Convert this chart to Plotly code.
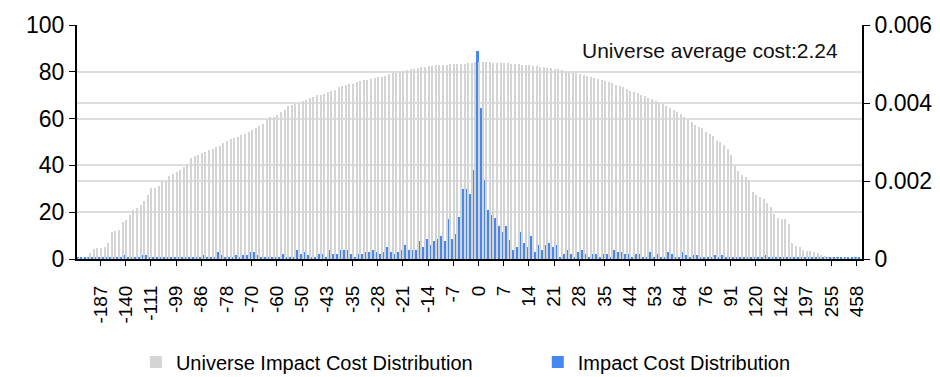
import plotly.graph_objects as go

# Cost buckets (bps) along the category axis
categories = [
    "-320", "-290", "-260", "-235", "-215", "-198", "-187", "-180", "-172", "-165",
    "-158", "-151", "-145", "-140", "-136", "-131", "-127", "-123", "-119", "-115",
    "-111", "-109", "-107", "-105", "-103", "-101", "-100", "-99", "-97", "-95",
    "-93", "-91", "-89", "-88", "-86", "-85", "-84", "-83", "-81", "-80",
    "-79", "-78", "-77", "-76", "-75", "-73", "-72", "-71", "-70", "-68",
    "-67", "-65", "-64", "-63", "-61", "-60", "-59", "-57", "-56", "-54",
    "-53", "-51", "-50", "-49", "-48", "-47", "-46", "-45", "-44", "-43",
    "-42", "-41", "-40", "-38", "-37", "-36", "-35", "-34", "-33", "-32",
    "-31", "-30", "-29", "-28", "-27", "-26", "-25", "-24", "-23", "-22",
    "-21", "-20", "-19", "-18", "-17", "-16", "-15", "-14", "-13", "-12",
    "-11", "-10", "-9", "-8", "-7", "-6", "-5", "-4", "-3", "-2",
    "-1", "0", "1", "2", "3", "4", "5", "6", "7", "8",
    "9", "10", "11", "12", "13", "14", "15", "16", "17", "18",
    "19", "20", "21", "22", "23", "24", "25", "26", "27", "28",
    "29", "30", "31", "32", "33", "34", "35", "36", "37", "38",
    "40", "41", "43", "44", "45", "46", "48", "49", "50", "52",
    "53", "54", "56", "57", "59", "60", "62", "64", "66", "67",
    "69", "71", "72", "74", "76", "78", "80", "82", "85", "87",
    "89", "91", "95", "99", "103", "107", "111", "116", "120", "123",
    "126", "130", "133", "136", "139", "142", "150", "158", "165", "174",
    "182", "190", "197", "205", "214", "223", "232", "240", "248", "255",
    "270", "290", "310", "340", "380", "420", "458", "620",
]

# Labelled ticks
tick_labels = [
    "-187", "-140", "-111", "-99", "-86", "-78", "-70", "-60", "-50", "-43",
    "-35", "-28", "-21", "-14", "-7", "0", "7", "14", "21", "28",
    "35", "44", "53", "64", "76", "91", "120", "142", "197", "255", "458",
]

# Universe impact cost distribution (density, right axis)
universe = [
    0.000018, 0.000018, 0.000024, 0.000156, 0.000258, 0.000282, 0.000282, 0.000306, 0.000408, 0.000696,
    0.000708, 0.000750, 0.000942, 0.001008, 0.001140, 0.001248, 0.001308, 0.001380, 0.001482, 0.001650,
    0.001812, 0.001830, 0.001866, 0.001974, 0.001992, 0.002124, 0.002190, 0.002226, 0.002280, 0.002352,
    0.002436, 0.002586, 0.002634, 0.002676, 0.002724, 0.002754, 0.002790, 0.002826, 0.002868, 0.002910,
    0.002976, 0.003024, 0.003066, 0.003096, 0.003132, 0.003174, 0.003210, 0.003252, 0.003306, 0.003348,
    0.003420, 0.003468, 0.003594, 0.003636, 0.003648, 0.003702, 0.003762, 0.003816, 0.003918, 0.003960,
    0.003978, 0.004008, 0.004050, 0.004074, 0.004116, 0.004158, 0.004194, 0.004218, 0.004242, 0.004278,
    0.004314, 0.004344, 0.004398, 0.004434, 0.004458, 0.004476, 0.004500, 0.004536, 0.004554, 0.004578,
    0.004602, 0.004620, 0.004638, 0.004656, 0.004674, 0.004704, 0.004740, 0.004758, 0.004776, 0.004794,
    0.004818, 0.004842, 0.004860, 0.004878, 0.004896, 0.004914, 0.004926, 0.004944, 0.004956, 0.004962,
    0.004962, 0.004962, 0.004980, 0.004992, 0.004998, 0.005004, 0.005004, 0.005004, 0.005016, 0.005016,
    0.005040, 0.005046, 0.005046, 0.005040, 0.005040, 0.005034, 0.005034, 0.005028, 0.005022, 0.005016,
    0.005010, 0.005004, 0.004992, 0.004980, 0.004974, 0.004962, 0.004956, 0.004944, 0.004932, 0.004920,
    0.004908, 0.004890, 0.004878, 0.004860, 0.004836, 0.004812, 0.004794, 0.004776, 0.004758, 0.004734,
    0.004710, 0.004686, 0.004668, 0.004644, 0.004614, 0.004590, 0.004560, 0.004536, 0.004506, 0.004470,
    0.004434, 0.004398, 0.004356, 0.004320, 0.004290, 0.004254, 0.004218, 0.004176, 0.004128, 0.004092,
    0.004044, 0.004008, 0.003966, 0.003918, 0.003876, 0.003810, 0.003768, 0.003708, 0.003648, 0.003576,
    0.003510, 0.003432, 0.003390, 0.003348, 0.003258, 0.003210, 0.003144, 0.003036, 0.003006, 0.002934,
    0.002808, 0.002664, 0.002418, 0.002244, 0.002166, 0.002106, 0.002028, 0.001710, 0.001632, 0.001584,
    0.001542, 0.001440, 0.001332, 0.001158, 0.001050, 0.001026, 0.001026, 0.000900, 0.000408, 0.000336,
    0.000318, 0.000240, 0.000216, 0.000216, 0.000174, 0.000156, 0.000114, 0.000066, 0.000054, 0.000042,
    0.000024, 0.000024, 0.000024, 0.000024, 0.000024, 0.000024, 0.000024, 0.000024,
]

# Impact cost distribution (left axis)
impact = [
    0.9, 0.9, 0.9, 0.9, 0.9, 0.9, 0.9, 0.9, 0.9, 0.9,
    0.9, 0.9, 0.9, 1.9, 0.9, 0.9, 0.9, 0.9, 1.9, 1.9,
    0.9, 0.9, 0.9, 0.9, 0.9, 0.9, 0.9, 0.9, 0.9, 0.9,
    0.9, 0.9, 0.9, 0.9, 0.9, 1.9, 0.9, 0.9, 0.9, 3.0,
    1.9, 0.9, 0.9, 0.9, 1.9, 0.9, 1.9, 1.9, 3.0, 3.0,
    1.9, 0.9, 0.9, 0.9, 0.9, 0.9, 0.9, 2.0, 0.9, 0.9,
    0.9, 3.9, 2.0, 3.0, 1.9, 0.9, 0.9, 2.0, 2.0, 0.9,
    3.9, 2.0, 2.0, 3.9, 3.9, 3.9, 2.0, 0.9, 2.0, 2.0,
    3.0, 3.0, 3.9, 3.0, 2.0, 3.0, 5.0, 3.0, 2.0, 3.0,
    3.9, 6.0, 3.9, 3.9, 3.9, 7.9, 5.0, 8.7, 6.0, 7.9,
    8.7, 9.8, 7.9, 17.1, 8.7, 10.8, 17.8, 30.0, 30.0, 27.8,
    38.0, 88.9, 64.6, 33.9, 21.1, 19.0, 17.5, 14.0, 11.6, 14.0,
    8.3, 3.7, 5.0, 11.7, 6.8, 5.0, 9.8, 3.0, 5.9, 3.7,
    5.9, 6.8, 5.0, 5.9, 1.0, 2.0, 3.7, 2.0, 1.0, 3.0,
    3.7, 2.0, 1.0, 2.0, 2.0, 1.0, 2.0, 2.0, 1.0, 3.7,
    3.0, 3.0, 2.0, 2.0, 1.0, 2.0, 2.0, 1.0, 1.0, 3.0,
    1.0, 2.0, 1.0, 1.0, 3.0, 2.0, 1.0, 0.9, 3.0, 1.5,
    0.9, 1.5, 1.5, 0.9, 0.9, 0.9, 0.9, 1.5, 0.9, 1.5,
    0.9, 0.9, 0.9, 0.9, 0.9, 0.9, 0.9, 0.9, 0.9, 0.9,
    0.9, 1.5, 0.9, 0.9, 0.9, 0.9, 0.9, 0.9, 0.9, 0.9,
    0.9, 0.9, 0.9, 0.9, 0.9, 0.9, 0.9, 0.9, 0.9, 0.9,
    0.9, 0.9, 0.9, 0.9, 0.9, 0.9, 0.9, 0.9,
]

left_ticks = [0, 20, 40, 60, 80, 100]
right_ticks = [0, 0.002, 0.004, 0.006]
right_tick_text = ["0", "0.002", "0.004", "0.006"]
annotation_text = "Universe average cost:2.24"

FONT = "Liberation Sans, Arial, sans-serif"
GRID = "#dedede"

fig = go.Figure()
fig.add_trace(go.Bar(
    x=categories, y=universe, name="Universe Impact Cost Distribution",
    marker=dict(color="#d4d4d4", line=dict(width=0)),
    yaxis="y2", offset=0.02, width=0.38, legend="legend",
))
fig.add_trace(go.Bar(
    x=categories, y=impact, name="Impact Cost Distribution",
    marker=dict(color="#4589f0", line=dict(width=0)),
    yaxis="y", offset=-0.48, width=0.48, legend="legend2",
))

legend_common = dict(
    orientation="h", y=-0.44, xanchor="left", yanchor="middle",
    font=dict(family=FONT, size=20, color="#000000"),
    bgcolor="rgba(0,0,0,0)",
)

fig.update_layout(
    width=940, height=377,
    margin=dict(l=69, r=86, t=17, b=126, autoexpand=False),
    paper_bgcolor="white", plot_bgcolor="white",
    font=dict(family=FONT, size=20, color="#000000"),
    barmode="overlay",
    bargap=0,
    showlegend=True,
    legend=dict(x=0.075, **legend_common),
    legend2=dict(x=0.587, **legend_common),
    xaxis=dict(
        type="category", categoryorder="array", categoryarray=categories,
        tickmode="array", tickvals=tick_labels, ticktext=tick_labels,
        tickangle=-90, tickfont=dict(family=FONT, size=19),
        ticks="outside", ticklen=5, tickwidth=1, tickcolor="black",
        showline=True, linecolor="black", linewidth=2,
        showgrid=False, zeroline=False, automargin=False,
        ticklabelstandoff=12,
    ),
    yaxis=dict(
        range=[0, 100], tickmode="array", tickvals=left_ticks,
        tickfont=dict(family=FONT, size=23),
        ticks="outside", ticklen=6, tickwidth=1, tickcolor="black",
        showline=True, linecolor="black", linewidth=2,
        showgrid=True, gridcolor=GRID, gridwidth=2, zeroline=False,
        automargin=False,
    ),
    yaxis2=dict(
        range=[0, 0.006], overlaying="y", side="right",
        tickmode="array", tickvals=right_ticks, ticktext=right_tick_text,
        tickfont=dict(family=FONT, size=23),
        ticks="outside", ticklen=6, tickwidth=1, tickcolor="black",
        showline=True, linecolor="black", linewidth=2,
        showgrid=True, gridcolor=GRID, gridwidth=2, zeroline=False,
        automargin=False,
    ),
    annotations=[dict(
        text=annotation_text, xref="paper", yref="paper",
        x=0.972, y=0.889, xanchor="right", yanchor="middle",
        showarrow=False, font=dict(family=FONT, size=21, color="#111111"),
    )],
)

fig.write_html("out.html")
